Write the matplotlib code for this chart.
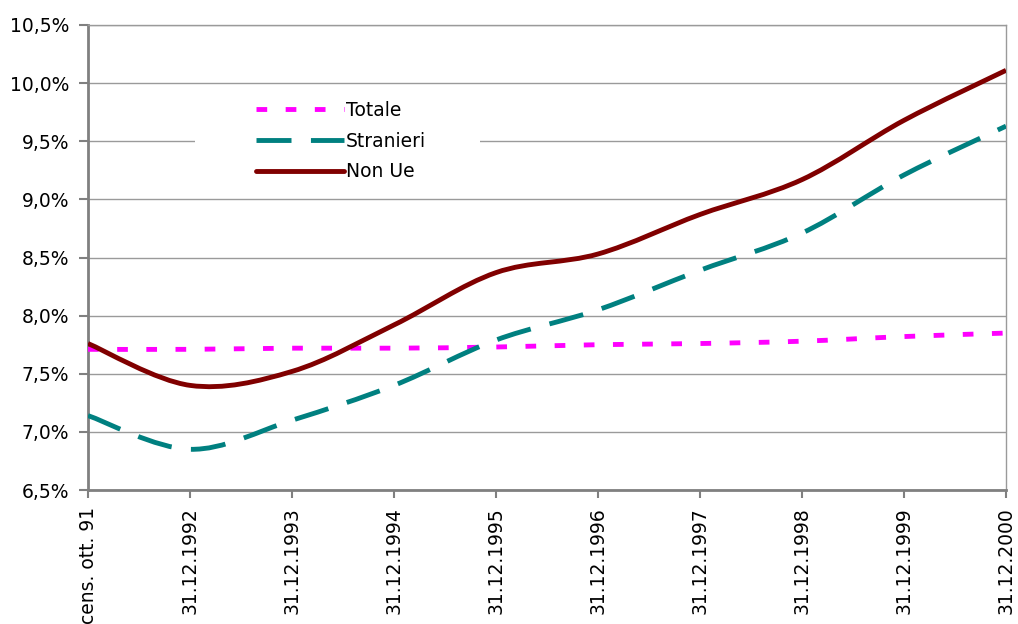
import numpy as np
import matplotlib
matplotlib.use("Agg")
import matplotlib.pyplot as plt
from matplotlib.path import Path
from matplotlib.patches import PathPatch, Rectangle
from matplotlib.lines import Line2D
from matplotlib.ticker import FuncFormatter, MultipleLocator

categories = ["cens. ott. 91", "31.12.1992", "31.12.1993", "31.12.1994", "31.12.1995",
              "31.12.1996", "31.12.1997", "31.12.1998", "31.12.1999", "31.12.2000"]
totale = [7.71, 7.71, 7.72, 7.72, 7.73, 7.75, 7.76, 7.78, 7.82, 7.85]
stranieri = [7.14, 6.85, 7.10, 7.40, 7.79, 8.05, 8.39, 8.71, 9.21, 9.63]
non_ue = [7.76, 7.40, 7.52, 7.92, 8.37, 8.53, 8.87, 9.17, 9.68, 10.11]

names = ["Totale", "Stranieri", "Non Ue"]
colors = ["#FF00FF", "#008080", "#800000"]
FS = 13.5

plt.rcParams['font.family'] = ['DejaVu Sans']

fig = plt.figure(figsize=(10.18, 6.24), dpi=100)
ax = fig.add_axes([88/1018, 1-490/624, (1006-88)/1018, (490-25)/624])


def smooth_path(xs, ys):
    P = np.column_stack([xs, ys]).astype(float)
    n = len(P)
    verts = [P[0]]
    codes = [Path.MOVETO]
    for i in range(n - 1):
        p0 = P[i - 1] if i > 0 else P[i]
        p1 = P[i]
        p2 = P[i + 1]
        p3 = P[i + 2] if i + 2 < n else P[i + 1]
        c1 = p1 + (p2 - p0) / 6.0
        c2 = p2 - (p3 - p1) / 6.0
        verts += [c1, c2, p2]
        codes += [Path.CURVE4] * 3
    return Path(verts, codes)


x = np.arange(len(categories))
lw = 3.5
styles = [(0, (2.2, 3.8)), (0, (7.2, 4.0)), "-"]
series = [totale, stranieri, non_ue]
handles = []
for vals, col, ls, nm in zip(series, colors, styles, names):
    p = PathPatch(smooth_path(x, vals), fill=False, edgecolor=col, lw=lw,
                  linestyle=ls, capstyle='butt', joinstyle='round', zorder=4)
    ax.add_patch(p)
    handles.append(Line2D([], [], color=col, lw=lw, linestyle=ls,
                          solid_capstyle='round', dash_capstyle='butt'))

ax.set_xlim(0, len(categories) - 1)
ax.set_ylim(6.5, 10.5)
ax.yaxis.set_major_locator(MultipleLocator(0.5))
ax.yaxis.set_major_formatter(FuncFormatter(lambda v, p: f"{v:.1f}%".replace(".", ",")))
ax.set_xticks(x)
ax.set_xticklabels(categories, rotation=90, fontsize=FS)
ax.tick_params(axis='y', labelsize=FS, length=6.5, width=1.5, color="#808080", pad=7)
ax.tick_params(axis='x', length=5.5, width=1.5, color="#808080", pad=7)

ax.grid(axis='y', color="#9a9a9a", lw=1.0, zorder=1)
ax.set_axisbelow(True)
for s in ["left", "bottom"]:
    ax.spines[s].set_color("#808080")
    ax.spines[s].set_linewidth(2.0)
ax.spines["right"].set_color("#9a9a9a")
ax.spines["right"].set_linewidth(1.0)
ax.spines["top"].set_color("#9a9a9a")
ax.spines["top"].set_linewidth(1.0)

# white legend background covering the grid
bx0 = (195 - 88) / 918
by0 = 1 - (192 - 25) / 465
bw = (480 - 195) / 918
bh = (192 - 88) / 465
ax.add_patch(Rectangle((bx0, by0), bw, bh, transform=ax.transAxes,
                       facecolor="white", edgecolor="none", zorder=2))

leg = ax.legend(handles, names, loc='upper left', frameon=False, fontsize=FS,
                bbox_to_anchor=((255 - 88) / 918 + 0.001, 1 - (101 - 25) / 465),
                borderaxespad=0, borderpad=0, handlelength=4.7, handletextpad=0.1,
                labelspacing=0.62)
leg.set_zorder(5)

fig.savefig("out.png", dpi=100, facecolor="white")
